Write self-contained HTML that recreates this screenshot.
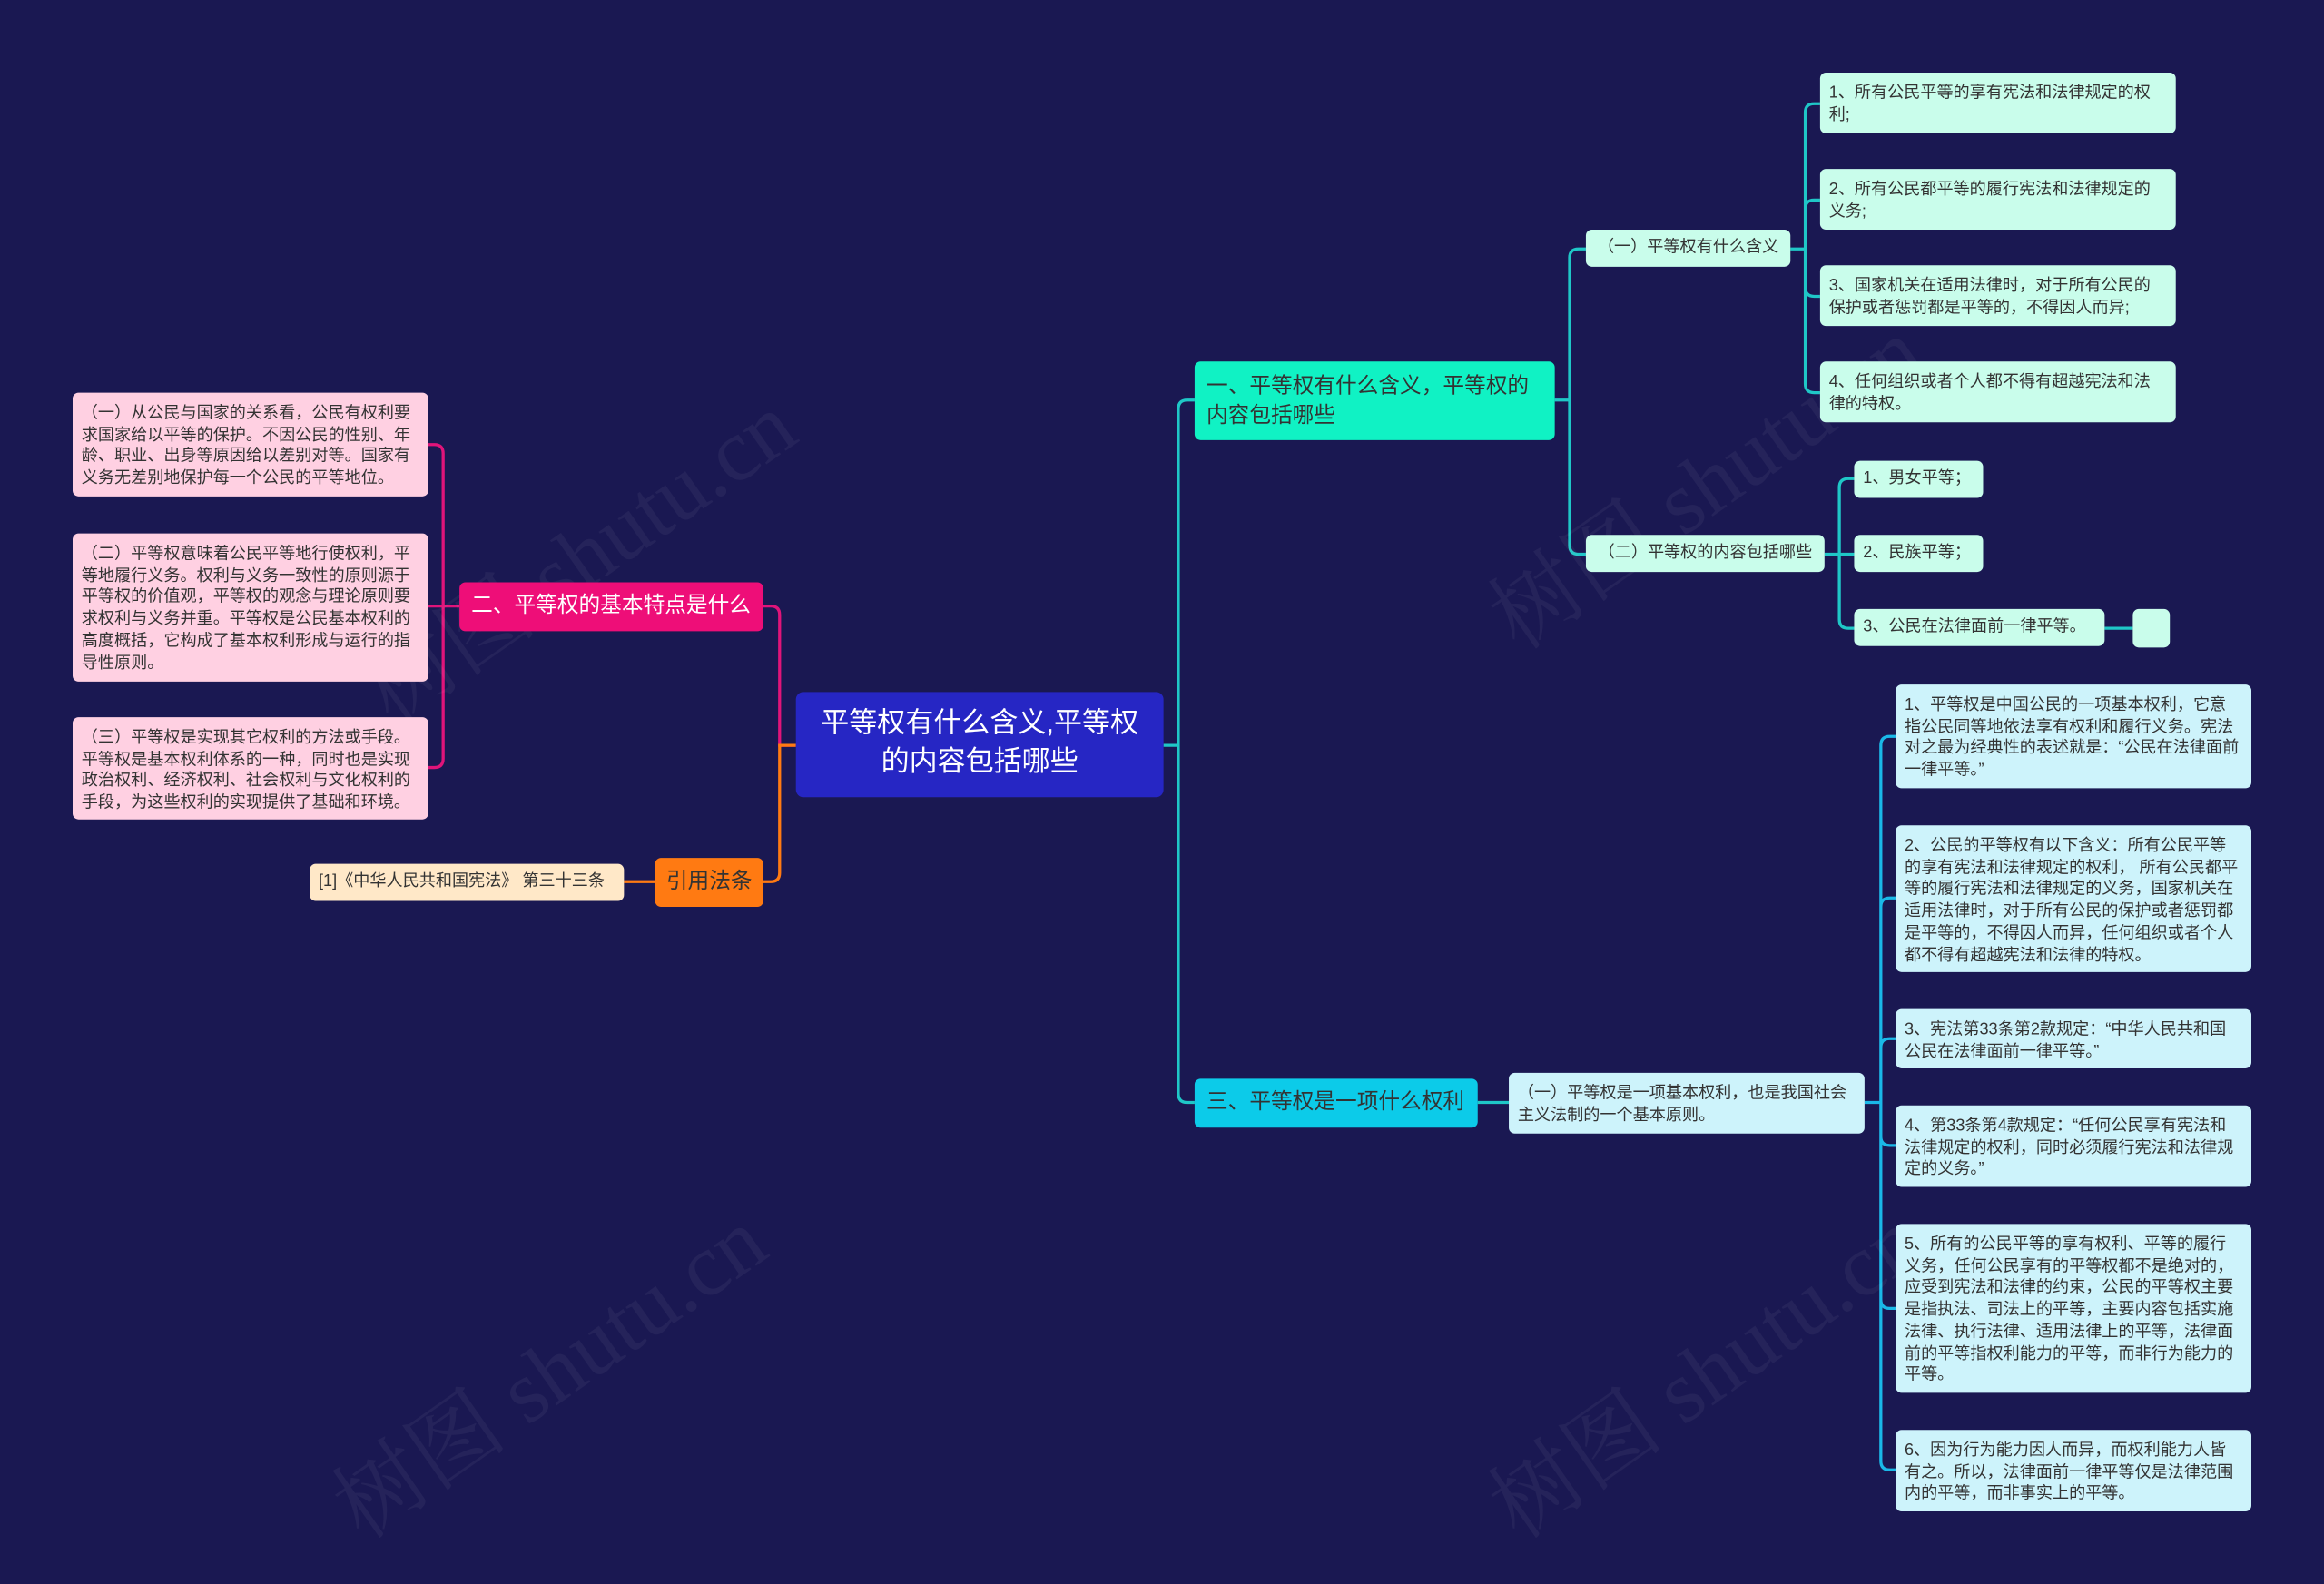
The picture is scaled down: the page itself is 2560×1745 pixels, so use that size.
<!DOCTYPE html>
<html><head><meta charset="utf-8">
<style>
html,body{margin:0;padding:0;background:#1a1852;}
#w{width:2560px;height:1745px;overflow:hidden;position:relative;background:#1a1852;}
#s{position:absolute;left:0;top:0;width:1568px;height:1069px;transform-origin:0 0;transform:scale(1.63265,1.63237);font-family:"Liberation Sans","Noto Sans CJK SC",sans-serif;}
.n{position:absolute;box-sizing:border-box;border-radius:4px;font-size:11.1px;line-height:14.7px;color:#333;padding:7px 6px 5px;overflow:hidden;}
.pk{background:#ffd0e2;}
.mt{background:#c9fdeb;}
.cy{background:#cdf3fb;}
.c{display:flex;align-items:center;white-space:nowrap;}
svg{position:absolute;left:0;top:0;}
.wm{position:absolute;font-size:60px;color:rgba(255,255,255,0.05);transform:rotate(-35deg);white-space:nowrap;font-family:"Liberation Serif","Noto Serif CJK SC",serif;}
</style></head><body><div id="w"><div id="s">
<svg id="g" width="1568" height="1069"></svg>
<div class="wm" style="left:220px;top:330px;">树图 shutu.cn</div>
<div class="wm" style="left:200px;top:880px;">树图 shutu.cn</div>
<div class="wm" style="left:980px;top:280px;">树图 shutu.cn</div>
<div class="wm" style="left:980px;top:880px;">树图 shutu.cn</div>

<div class="n" style="left:537px;top:467px;width:248px;height:71px;background:#2626c4;color:#fff;font-size:19px;line-height:26px;text-align:center;border-radius:5px;padding:9px 12px 0;">平等权有什么含义,平等权<br>的内容包括哪些</div>

<div class="n c" style="left:310px;top:393px;width:205px;height:33px;background:#ee0e78;color:#fff;font-size:14.5px;padding:0 0 0 8px;">二、平等权的基本特点是什么</div>
<div class="n c" style="left:442px;top:579px;width:73px;height:33px;background:#ff7a12;color:#333;font-size:14.5px;justify-content:center;padding:0;">引用法条</div>
<div class="n c" style="left:209px;top:583px;width:212px;height:25px;background:#ffe8c8;padding:0 6px;">[1]《中华人民共和国宪法》 第三十三条</div>

<div class="n pk" style="left:49px;top:265px;width:240px;height:70px;">（一）从公民与国家的关系看，公民有权利要求国家给以平等的保护。不因公民的性别、年龄、职业、出身等原因给以差别对等。国家有义务无差别地保护每一个公民的平等地位。</div>
<div class="n pk" style="left:49px;top:360px;width:240px;height:100px;">（二）平等权意味着公民平等地行使权利，平等地履行义务。权利与义务一致性的原则源于平等权的价值观，平等权的观念与理论原则要求权利与义务并重。平等权是公民基本权利的高度概括，它构成了基本权利形成与运行的指导性原则。</div>
<div class="n pk" style="left:49px;top:484px;width:240px;height:69px;">（三）平等权是实现其它权利的方法或手段。平等权是基本权利体系的一种，同时也是实现政治权利、经济权利、社会权利与文化权利的手段，为这些权利的实现提供了基础和环境。</div>

<div class="n" style="left:806px;top:244px;width:243px;height:53px;background:#10f2c4;color:#333;font-size:14.5px;line-height:20px;padding:7px 8px;">一、平等权有什么含义，平等权的<br>内容包括哪些</div>
<div class="n c" style="left:806px;top:728px;width:191px;height:33px;background:#0ccbe9;color:#333;font-size:14.5px;padding:0 0 0 8px;">三、平等权是一项什么权利</div>

<div class="n mt c" style="left:1070px;top:155px;width:138px;height:25px;padding:0 4px;justify-content:center;">（一）平等权有什么含义</div>
<div class="n mt c" style="left:1070px;top:361px;width:161px;height:25px;padding:0 4px;justify-content:center;">（二）平等权的内容包括哪些</div>

<div class="n mt" style="left:1228px;top:49px;width:240px;height:41px;">1、所有公民平等的享有宪法和法律规定的权利;</div>
<div class="n mt" style="left:1228px;top:114px;width:240px;height:41px;">2、所有公民都平等的履行宪法和法律规定的义务;</div>
<div class="n mt" style="left:1228px;top:179px;width:240px;height:41px;">3、国家机关在适用法律时，对于所有公民的保护或者惩罚都是平等的，不得因人而异;</div>
<div class="n mt" style="left:1228px;top:244px;width:240px;height:41px;">4、任何组织或者个人都不得有超越宪法和法律的特权。</div>

<div class="n mt c" style="left:1251px;top:311px;width:87px;height:25px;padding:0 6px;">1、男女平等；</div>
<div class="n mt c" style="left:1251px;top:361px;width:87px;height:25px;padding:0 6px;">2、民族平等；</div>
<div class="n mt c" style="left:1251px;top:411px;width:169px;height:25px;padding:0 6px;">3、公民在法律面前一律平等。</div>
<div class="n mt" style="left:1439px;top:411px;width:25px;height:26px;"></div>

<div class="n cy" style="left:1018px;top:724px;width:240px;height:41px;">（一）平等权是一项基本权利，也是我国社会主义法制的一个基本原则。</div>

<div class="n cy" style="left:1279px;top:462px;width:240px;height:70px;">1、平等权是中国公民的一项基本权利，它意指公民同等地依法享有权利和履行义务。宪法对之最为经典性的表述就是：“公民在法律面前一律平等。”</div>
<div class="n cy" style="left:1279px;top:557px;width:240px;height:99px;">2、公民的平等权有以下含义：所有公民平等的享有宪法和法律规定的权利， 所有公民都平等的履行宪法和法律规定的义务，国家机关在适用法律时，对于所有公民的保护或者惩罚都是平等的，不得因人而异，任何组织或者个人都不得有超越宪法和法律的特权。</div>
<div class="n cy" style="left:1279px;top:681px;width:240px;height:40px;">3、宪法第33条第2款规定：“中华人民共和国公民在法律面前一律平等。”</div>
<div class="n cy" style="left:1279px;top:746px;width:240px;height:55px;">4、第33条第4款规定：“任何公民享有宪法和法律规定的权利，同时必须履行宪法和法律规定的义务。”</div>
<div class="n cy" style="left:1279px;top:826px;width:240px;height:114px;">5、所有的公民平等的享有权利、平等的履行义务，任何公民享有的平等权都不是绝对的，应受到宪法和法律的约束，公民的平等权主要是指执法、司法上的平等，主要内容包括实施法律、执行法律、适用法律上的平等，法律面前的平等指权利能力的平等，而非行为能力的平等。</div>
<div class="n cy" style="left:1279px;top:965px;width:240px;height:55px;">6、因为行为能力因人而异，而权利能力人皆有之。所以，法律面前一律平等仅是法律范围内的平等，而非事实上的平等。</div>
</div></div>
<script>
var g=document.getElementById('g'),d='';
function br(x0,y0,xm,x1,ys,col){
 var p='';
 ys.forEach(function(y){
  var r=Math.min(6,Math.abs(y-y0));
  var s=y>y0?1:(y<y0?-1:0);
  var dir=x1>x0?1:-1;
  if(s==0){p+='M'+x0+' '+y0+'H'+x1;return;}
  p+='M'+x0+' '+y0+'H'+xm+'V'+(y-s*r)+'Q'+xm+' '+y+' '+(xm+dir*r)+' '+y+'H'+x1;
 });
 d+='<path d="'+p+'" stroke="'+col+'" stroke-width="2" fill="none"/>';
}
br(785,503,795,806,[270,744],'#1fc7c7');
br(537,503,526,515,[409],'#e0147a');
br(537,503,526,515,[595],'#ff7a12');
br(310,409,299,289,[300,409,518],'#e0147a');
br(442,595,432,421,[595],'#ff7a12');
br(1049,270,1059,1070,[168,374],'#1fc7c7');
br(1208,168,1218,1228,[70,135,200,265],'#1fc7c7');
br(1231,374,1241,1251,[323,374,424],'#1fc7c7');
br(1420,424,1430,1439,[424],'#1fc7c7');
br(997,744,1008,1018,[744],'#1fc7c7');
br(1258,744,1269,1279,[497,606,701,773,883,992],'#1ab8e8');
g.innerHTML=d;
</script>
</body></html>
